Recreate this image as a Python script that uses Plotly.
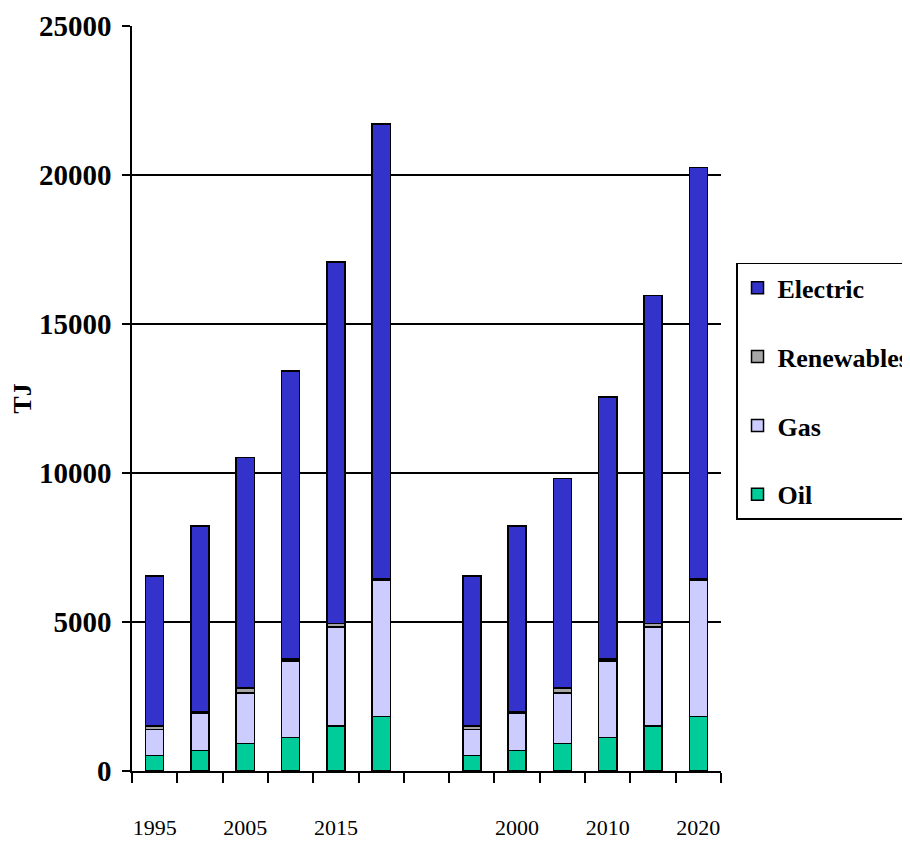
import plotly.graph_objects as go

# ---- data (TJ) ----
years = [1995, 2000, 2005, 2010, 2015, 2020]
oil = [526, 682, 917, 1130, 1510, 1823]
gas = [861, 1242, 1701, 2561, 3322, 4575]
renewables = [123, 56, 167, 67, 112, 45]
electric_a = [5034, 6250, 7735, 9665, 12136, 15267]
electric_b = [5034, 6250, 7030, 8792, 11016, 13807]

series_names = ["Oil", "Gas", "Renewables", "Electric"]
colors = {"Oil": "#00CC99", "Gas": "#CCCCFF", "Renewables": "#A6A6A6", "Electric": "#3333CC"}
legend_rank = {"Electric": 1, "Renewables": 2, "Gas": 3, "Oil": 4}

# x positions: group A at 0..5, blank slot at 6, group B at 7..12
xa = list(range(len(years)))
xb = [len(years) + 1 + i for i in range(len(years))]
x_all = xa + xb

values = {
    "Oil": oil + oil,
    "Gas": gas + gas,
    "Renewables": renewables + renewables,
    "Electric": electric_a + electric_b,
}

tickvals = [xa[i] for i in range(0, 6, 2)] + [xb[i] for i in range(1, 6, 2)]
ticktext = [str(years[i]) for i in range(0, 6, 2)] + [str(years[i]) for i in range(1, 6, 2)]

FONT = "Liberation Serif, serif"
LEGEND_FONT = "Times New Roman, Liberation Serif, DejaVu Serif, serif"

fig = go.Figure()
for name in series_names:
    fig.add_trace(go.Bar(
        x=x_all, y=values[name], name=name,
        legendgroup=name,
        legendrank=legend_rank[name],
        marker=dict(color=colors[name], line=dict(color="black", width=1.5)),
    ))

fig.update_layout(
    barmode="stack",
    bargap=0.6,
    width=910, height=847,
    margin=dict(l=124, r=197, t=18, b=84, autoexpand=False),
    plot_bgcolor="white", paper_bgcolor="white",
    font=dict(family=FONT, color="black"),
    legend=dict(
        x=1.0255, y=0.682, xanchor="left", yanchor="top",
        bordercolor="black", borderwidth=1.5, bgcolor="white",
        font=dict(family=LEGEND_FONT, size=26, weight="bold", color="black"),
        traceorder="grouped", tracegroupgap=32,
    ),
)
fig.update_xaxes(
    range=[-0.5, 12.5],
    tickmode="array", tickvals=tickvals, ticktext=ticktext,
    ticks="", showgrid=False, zeroline=False,
    showline=True, linecolor="black", linewidth=1.5,
    tickfont=dict(family=FONT, size=22, color="black"),
    ticklabelstandoff=36,
    minor=dict(tick0=-0.5, dtick=1, ticks="outside", ticklen=10,
               tickcolor="black", tickwidth=1.5, showgrid=False),
)
fig.update_yaxes(
    range=[0, 25000], dtick=5000, tick0=0, tickformat="d",
    showgrid=True, gridcolor="black", gridwidth=1.5,
    zeroline=False,
    showline=True, linecolor="black", linewidth=1.5,
    ticks="outside", ticklen=8, tickcolor="black", tickwidth=1.5,
    ticklabelstandoff=5,
    tickfont=dict(family=FONT, size=29, weight="bold", color="black"),
    title=dict(text="TJ", font=dict(family=FONT, size=26, weight="bold", color="black"), standoff=8),
)

fig.write_html("out.html")
